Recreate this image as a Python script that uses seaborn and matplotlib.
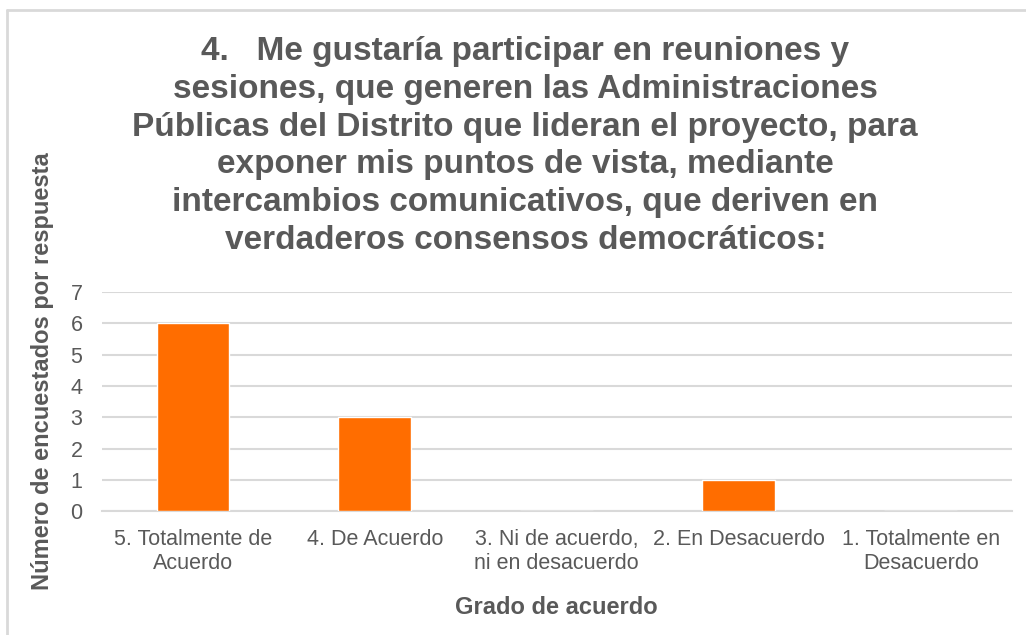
import matplotlib
matplotlib.use("Agg")
import matplotlib.pyplot as plt
import matplotlib.lines as mlines
import seaborn as sns
import pandas as pd

# Chart data
categories = [
    "5. Totalmente de\nAcuerdo",
    "4. De Acuerdo",
    "3. Ni de acuerdo,\nni en desacuerdo",
    "2. En Desacuerdo",
    "1. Totalmente en\nDesacuerdo",
]
counts = [6, 3, 0, 1, 0]
y_ticks = [0, 1, 2, 3, 4, 5, 6, 7]

title = ("4.   Me gustaría participar en reuniones y\n"
         "sesiones, que generen las Administraciones\n"
         "Públicas del Distrito que lideran el proyecto, para\n"
         "exponer mis puntos de vista, mediante\n"
         "intercambios comunicativos, que deriven en\n"
         "verdaderos consensos democráticos:")

text_gray = "#595959"
grid_gray = "#D9D9D9"
bar_color = "#FF6D00"

sns.set_style("white")
plt.rcParams["font.family"] = ["Liberation Sans", "DejaVu Sans"]

df = pd.DataFrame({"grado": categories, "n": counts})

fig = plt.figure(figsize=(10.26, 6.35), dpi=100)
ax = fig.add_axes([0.0994, 0.195, 0.8866, 0.345])

sns.barplot(data=df, x="grado", y="n", color=bar_color, width=0.4,
            saturation=1, ax=ax, zorder=3)

ax.set_ylim(0, 7)
ax.set_yticks(y_ticks)
ax.yaxis.grid(True, color=grid_gray, linewidth=1.5, zorder=0)
ax.set_axisbelow(True)
for side in ["top", "right", "left"]:
    ax.spines[side].set_visible(False)
ax.spines["bottom"].set_color(grid_gray)
ax.spines["bottom"].set_linewidth(1.5)
ax.tick_params(axis="both", length=0, labelsize=15.5, labelcolor=text_gray)
ax.tick_params(axis="x", pad=13)
ax.tick_params(axis="y", pad=14)
for lbl in ax.get_xticklabels():
    lbl.set_linespacing(1.15)

ax.set_xlabel("Grado de acuerdo", fontsize=17, fontweight="bold",
              color=text_gray, labelpad=16)
ax.set_ylabel("")
fig.text(0.041, 0.415, "Número de encuestados por respuesta", rotation=90,
         ha="center", va="center", fontsize=17, fontweight="bold", color=text_gray)

fig.text(0.512, 0.943, title, ha="center", va="top", fontsize=24,
         fontweight="bold", color=text_gray, linespacing=1.28)

# chart frame (top and left edges visible)
fig.add_artist(mlines.Line2D([0.0068, 1.0], [0.984, 0.984],
                             color=grid_gray, linewidth=2, transform=fig.transFigure))
fig.add_artist(mlines.Line2D([0.0068, 0.0068], [0.0, 0.984],
                             color=grid_gray, linewidth=2, transform=fig.transFigure))

fig.savefig("out.png", dpi=100, facecolor="white")
